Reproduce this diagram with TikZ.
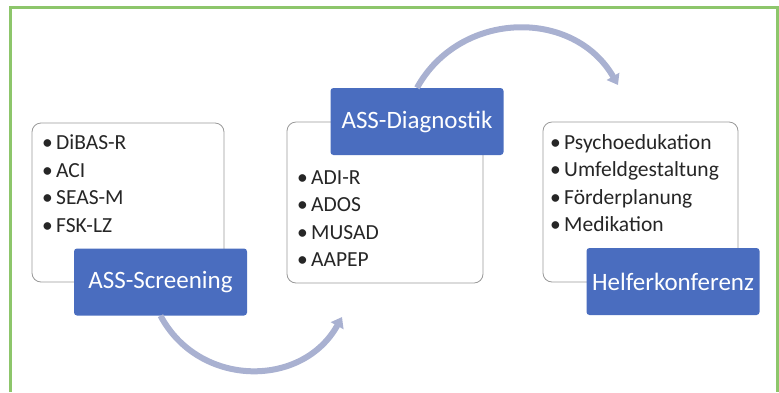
\documentclass[tikz,border=0pt]{standalone}
\usepackage{fontspec}
\setmainfont{Carlito}
\usetikzlibrary{arrows.meta}
\definecolor{boxblue}{HTML}{4A6DBF}
\definecolor{arcgray}{HTML}{A9B1D1}
\definecolor{framegreen}{HTML}{8DC66B}
\newcommand{\itembullet}{\makebox[14pt][l]{•}}

\begin{document}
\begin{tikzpicture}
            [x=1pt,y=-1pt,
             listbox/.style={draw=black!40,fill=white,rounded corners=9pt,line width=0.8pt},
             title/.style={fill=boxblue,text=white,rounded corners=3pt,minimum width=173pt,minimum height=67pt,font=\fontsize{25}{30}\selectfont},
             item/.style={anchor=base west,inner sep=0pt,text=black!85,font=\fontsize{21.5}{26}\selectfont},
             flow/.style={draw=arcgray,line width=6pt,-{Triangle[width=14pt,length=10pt]}}]
            \useasboundingbox (0,0) rectangle (779,392);
            \draw[framegreen,line width=3pt] (10,392) |- (777,7) -- (777,392);

            % white boxes
            \node[listbox,minimum width=192pt,minimum height=159pt] (L1) at (128,202.5) {};
            \node[listbox,minimum width=196pt,minimum height=161pt] (L2) at (385,202.5) {};
            \node[listbox,minimum width=195pt,minimum height=160pt] (L3) at (640.5,202) {};

            % items
            \node[item] (I11) at (42,149) {\itembullet DiBAS-R};
            \node[item] (I12) at (42,177) {\itembullet ACI};
            \node[item] (I13) at (42,204) {\itembullet SEAS-M};
            \node[item] (I14) at (42,232) {\itembullet FSK-LZ};
            \node[item] (I21) at (297,184) {\itembullet ADI-R};
            \node[item] (I22) at (297,211) {\itembullet ADOS};
            \node[item] (I23) at (297,239) {\itembullet MUSAD};
            \node[item] (I24) at (297,266) {\itembullet AAPEP};
            \node[item] (I31) at (550,149) {\itembullet Psychoedukation};
            \node[item] (I32) at (550,176) {\itembullet Umfeldgestaltung};
            \node[item] (I33) at (550,204) {\itembullet Förderplanung};
            \node[item] (I34) at (550,231) {\itembullet Medikation};

            % blue labels
            \node[title] (S1) at (160.5,282) {ASS-Screening};
            \node[title] (S2) at (417,121.5) {ASS-Diagnostik};
            \node[title] (S3) at (673,281.5) {Helferkonferenz};

            % curved arrows
            \coordinate (A1) at (342,317);
            \coordinate (A2) at (618,85);
            \draw[flow] (S1.south) to[out=-62,in=-119,looseness=1.15] (A1);
            \draw[flow] (S2.north) to[out=61,in=120,looseness=1.13] (A2);
        \end{tikzpicture}
\end{document}
